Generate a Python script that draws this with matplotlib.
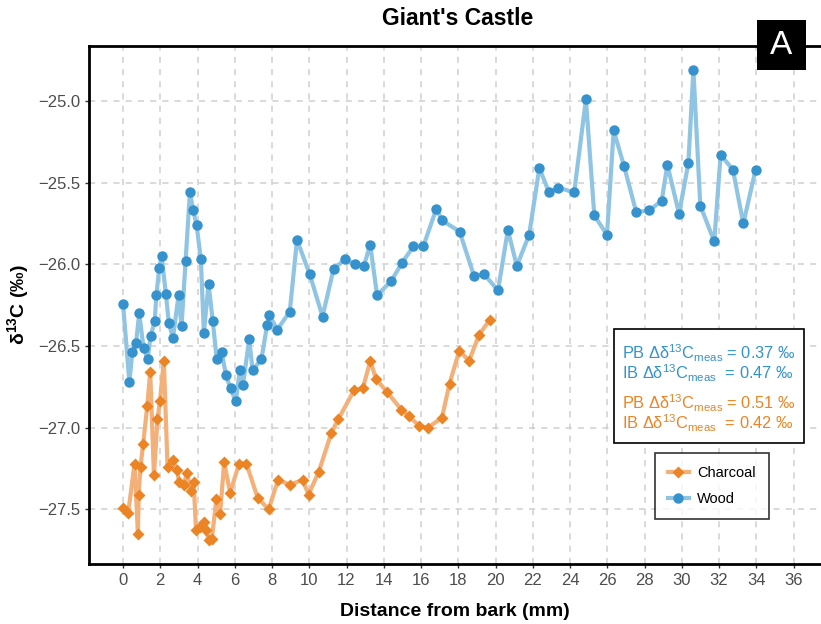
import numpy as np
import matplotlib
matplotlib.use("Agg")
import matplotlib.pyplot as plt
from matplotlib.patches import Rectangle
from matplotlib.lines import Line2D

plt.rcParams['font.family'] = ['Liberation Sans', 'DejaVu Sans']
plt.rcParams['mathtext.fontset'] = 'custom'
plt.rcParams['mathtext.rm'] = 'Liberation Sans'
plt.rcParams['mathtext.it'] = 'Liberation Sans:italic'
plt.rcParams['mathtext.bf'] = 'Liberation Sans:bold'

# ---- data ----
wood_x = [0.0, 0.34, 0.50, 0.70, 0.87, 1.10, 1.32, 1.48, 1.70, 1.79, 1.95, 2.07,
          2.30, 2.46, 2.68, 2.98, 3.14, 3.36, 3.59, 3.77, 3.95, 4.18, 4.34, 4.59,
          4.82, 5.03, 5.30, 5.53, 5.77, 6.05, 6.27, 6.44, 6.77, 6.96, 7.43, 7.74,
          7.85, 8.28, 8.95, 9.34, 10.02, 10.71, 11.30, 11.91, 12.48, 12.93, 13.27,
          13.64, 14.41, 14.98, 15.59, 16.12, 16.82, 17.12, 18.07, 18.84, 19.38,
          20.13, 20.66, 21.14, 21.80, 22.35, 22.87, 23.37, 24.22, 24.85, 25.30,
          25.98, 26.34, 26.90, 27.55, 28.26, 28.92, 29.22, 29.85, 30.35, 30.62,
          30.99, 31.74, 32.08, 32.74, 33.30, 33.96]
wood_y = [-26.24, -26.72, -26.54, -26.48, -26.30, -26.51, -26.58, -26.44, -26.35,
          -26.19, -26.02, -25.95, -26.18, -26.36, -26.45, -26.19, -26.38, -25.98,
          -25.56, -25.67, -25.76, -25.97, -26.42, -26.12, -26.35, -26.58, -26.54,
          -26.68, -26.76, -26.84, -26.65, -26.74, -26.46, -26.65, -26.58, -26.37,
          -26.31, -26.40, -26.29, -25.85, -26.06, -26.32, -26.03, -25.97, -26.00,
          -26.01, -25.88, -26.19, -26.10, -25.99, -25.89, -25.89, -25.66, -25.73,
          -25.80, -26.07, -26.06, -26.16, -25.79, -26.01, -25.82, -25.41, -25.56,
          -25.53, -25.56, -24.99, -25.70, -25.82, -25.18, -25.40, -25.68, -25.67,
          -25.61, -25.39, -25.69, -25.38, -24.81, -25.64, -25.86, -25.33, -25.42,
          -25.75, -25.42]

charcoal_x = [0.0, 0.28, 0.62, 0.80, 0.84, 0.94, 1.08, 1.30, 1.46, 1.66, 1.85, 1.98,
              2.19, 2.39, 2.69, 2.91, 3.00, 3.25, 3.43, 3.66, 3.79, 3.92, 4.12, 4.34,
              4.48, 4.59, 4.77, 5.01, 5.21, 5.43, 5.75, 6.23, 6.62, 7.23, 7.82, 8.32,
              8.96, 9.64, 9.96, 10.51, 11.19, 11.55, 12.41, 12.87, 13.28, 13.57,
              14.16, 14.94, 15.35, 15.90, 16.37, 17.12, 17.53, 18.05, 18.58, 19.12,
              19.69]
charcoal_y = [-27.49, -27.52, -27.22, -27.65, -27.41, -27.24, -27.10, -26.87, -26.66,
              -27.29, -26.95, -26.84, -26.59, -27.24, -27.20, -27.26, -27.33, -27.35,
              -27.28, -27.39, -27.33, -27.63, -27.61, -27.58, -27.63, -27.69, -27.68,
              -27.44, -27.53, -27.21, -27.40, -27.22, -27.22, -27.43, -27.50, -27.32,
              -27.35, -27.32, -27.41, -27.27, -27.03, -26.95, -26.77, -26.76, -26.59,
              -26.70, -26.78, -26.89, -26.93, -26.99, -27.00, -26.94, -26.73, -26.53,
              -26.59, -26.43, -26.34]

x_ticks = list(range(0, 37, 2))
y_ticks = [-25.0, -25.5, -26.0, -26.5, -27.0, -27.5]

wood_pt, wood_ln = '#3592cd', '#8fc4e3'
char_pt, char_ln = '#ea8424', '#f3b078'

fig = plt.figure(figsize=(8.21, 6.24), dpi=100)
ax = fig.add_axes([0.109, 0.0962, 0.891, 0.8301])

ax.plot(charcoal_x, charcoal_y, color=char_ln, lw=3, zorder=2)
ax.plot(charcoal_x, charcoal_y, 'D', color=char_pt, ms=6, mec='none', zorder=3)
ax.plot(wood_x, wood_y, color=wood_ln, lw=3, zorder=2)
ax.plot(wood_x, wood_y, 'o', color=wood_pt, ms=7.5, mec='none', zorder=3)

ax.set_xlim(-1.8, 37.47)
ax.set_ylim(-27.835, -24.663)
ax.set_xticks(x_ticks)
ax.set_yticks(y_ticks)
ax.set_yticklabels([f'\u2212{abs(v):.1f}' for v in y_ticks])
ax.grid(True, color='#cfcfcf', linestyle=(0, (4, 4)), lw=1.1, zorder=0)
ax.tick_params(labelsize=12, labelcolor='#4d4d4d', color='#333333', length=3, width=1)

ax.spines['right'].set_visible(False)
for s in ['left', 'bottom', 'top']:
    ax.spines[s].set_linewidth(2)
    ax.spines[s].set_color('black')

ax.set_xlabel('Distance from bark (mm)', fontsize=14, fontweight='bold', labelpad=11)
ax.set_ylabel(r'δ$^{\mathbf{13}}$C (‰)', fontsize=14, fontweight='bold', labelpad=5)
fig.text(0.558, 0.970, "Giant's Castle", ha='center', va='center', fontsize=16.5, fontweight='bold')

# panel letter
W, H = 821, 624
fig.patches.append(Rectangle((757 / W, 1 - 70 / H), 49 / W, 50 / H, transform=fig.transFigure,
                             facecolor='black', edgecolor='none', zorder=5))
fig.text(781.5 / W, 1 - 45 / H, 'A', color='white', fontsize=24, ha='center', va='center', zorder=6)

# stats box
fig.patches.append(Rectangle((614 / W, 1 - 443 / H), 190 / W, 114 / H, transform=fig.transFigure,
                             facecolor='white', edgecolor='black', lw=1.2, zorder=5))
stats = [(353, 'PB', ' = 0.37', wood_pt), (373, 'IB', '  = 0.47', wood_pt),
         (403, 'PB', ' = 0.51', char_pt), (423, 'IB', '  = 0.42', char_pt)]
for yy, lab, val, col in stats:
    fig.text(622 / W, 1 - yy / H, lab + r' Δδ$^{13}$C$_{\mathrm{meas}}$' + val + ' ‰',
             color=col, fontsize=11.8, ha='left', va='center', zorder=6)

handles = [Line2D([], [], color=char_ln, lw=3, marker='D', ms=6, mfc=char_pt, mec='none'),
           Line2D([], [], color=wood_ln, lw=3, marker='o', ms=7.5, mfc=wood_pt, mec='none')]
leg = ax.legend(handles, ['Charcoal', 'Wood'], loc='upper left',
                bbox_to_anchor=(655 / W, 1 - 453 / H), bbox_transform=fig.transFigure,
                borderaxespad=0, fontsize=10.5, frameon=True, fancybox=False,
                edgecolor='black', handlelength=1.4, borderpad=0.9, labelspacing=0.8,
                handletextpad=0.6)
leg.get_frame().set_linewidth(1.2)

fig.savefig('out.png', dpi=100)
